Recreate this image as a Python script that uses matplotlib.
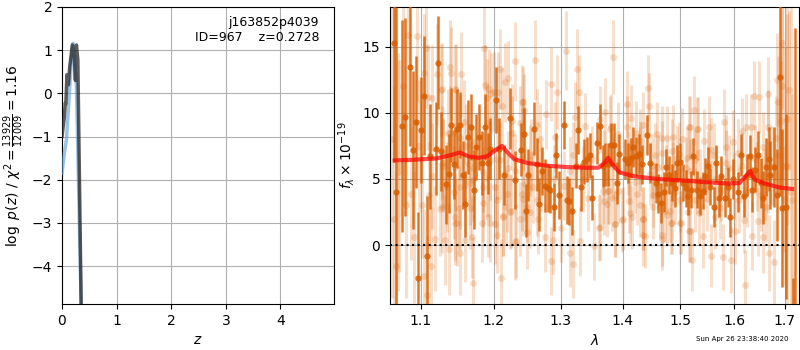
import numpy as np
import matplotlib
matplotlib.use("Agg")
import matplotlib.pyplot as plt
from matplotlib.ticker import FixedLocator, FixedFormatter, NullLocator

# ---------------- left panel: log p(z) ----------------
pz_z_fit = [0.0, 0.043, 0.06, 0.07, 0.09, 0.117, 0.14, 0.19, 0.227, 0.245, 0.264, 0.29, 0.35, 0.40]
pz_dark = [-1.0, -0.55, -0.22, -0.25, 0.43, 0.20, 0.60, 1.12, 0.82, 0.30, 1.12, 0.77, -4.85, -9.0]
pz_z_blue = [0.0, 0.043, 0.08, 0.117, 0.153, 0.19, 0.20, 0.227, 0.264, 0.30, 0.35, 0.40]
pz_blue = [-1.85, -1.39, -1.08, -0.38, 0.39, 1.08, 1.16, 0.85, 0.16, -1.9, -4.85, -9.0]

# ---------------- right panel: spectrum ----------------
dark_wave = [1.0651, 1.0680, 1.0754, 1.0792, 1.0857, 1.0896, 1.0935, 1.0962, 1.1001, 1.1041,
             1.1080, 1.1120, 1.1201, 1.1228, 1.1268, 1.1336, 1.1377, 1.1404, 1.1445, 1.1486,
             1.1528, 1.1570, 1.1598, 1.1639, 1.1681, 1.1723, 1.1751, 1.1794, 1.1836, 1.1879,
             1.1921, 1.1950, 1.2036, 1.2079, 1.2152, 1.2240, 1.2313, 1.2402, 1.2447, 1.2477,
             1.2507, 1.2597, 1.2643, 1.2673, 1.2718, 1.2764, 1.2810, 1.2840, 1.2902, 1.2933,
             1.2979, 1.3058, 1.3105, 1.3136, 1.3184, 1.3247, 1.3279, 1.3326, 1.3374, 1.3422,
             1.3470, 1.3503, 1.3584, 1.3633, 1.3682, 1.3715, 1.3764, 1.3814, 1.3864, 1.3913,
             1.3946, 1.4047, 1.4098, 1.4149, 1.4183, 1.4234, 1.4285, 1.4337, 1.4422, 1.4474,
             1.4579, 1.4614, 1.4667, 1.4719, 1.4754, 1.4808, 1.4861, 1.4914, 1.4950, 1.5004,
             1.5058, 1.5112, 1.5148, 1.5203, 1.5239, 1.5313, 1.5350, 1.5405, 1.5460, 1.5498,
             1.5553, 1.5609, 1.5665, 1.5703, 1.5759, 1.5816, 1.5873, 1.5911, 1.5968, 1.6064,
             1.6122, 1.6180, 1.6238, 1.6297, 1.6336, 1.6394, 1.6453, 1.6512, 1.6552, 1.6611,
             1.6671, 1.6710, 1.6771, 1.6831, 1.6892, 1.6932, 1.7014, 1.7162, 1.7204]
dark_flux = [15.3, 4.0, 9.0, 9.7, 13.5, 7.2, 9.3, -2.5, 8.7, 11.3,
             -0.8, 6.7, 7.3, 13.8, 7.1, 4.6, 5.4, 9.1, 6.1, 8.8,
             9.1, 5.3, 3.1, 8.2, 8.9, 4.2, 7.4, 8.2, 6.2, 8.9,
             6.2, 7.3, 11.0, 7.3, 5.3, 9.6, 4.9, 7.2, 8.4, 2.6,
             5.3, 8.8, 6.1, 3.1, 5.6, 4.5, 4.3, 4.2, 2.9, 6.8,
             3.8, 9.1, 3.4, 3.3, 2.6, 6.0, 8.7, 4.4, 6.3, 6.5,
             6.8, 3.6, 7.7, 9.0, 6.0, 6.1, 6.1, 7.6, 7.6, 4.7,
             6.9, 6.5, 6.2, 6.6, 7.4, 6.7, 6.9, 6.1, 8.3, 6.2,
             4.7, 3.9, 3.2, 4.0, 5.9, 5.3, 4.7, 4.3, 6.2, 6.3,
             4.7, 4.3, 3.7, 4.2, 6.7, 4.2, 3.7, 4.1, 5.2, 6.0,
             4.4, 2.9, 6.2, 3.6, 5.2, 3.6, 4.4, 2.1, 5.0, 4.0,
             6.8, 3.7, 5.3, 6.7, 4.2, 5.7, 6.8, 4.7, 3.6, 5.9,
             6.5, 5.3, 5.9, 3.8, 12.7, 2.8, 2.9, -9.0, -6.0]
dark_err = [9.0, 14.0, 8.0, 7.5, 6.0, 6.0, 5.0, 5.0, 4.0, 4.5,
            4.5, 4.0, 3.5, 3.5, 3.0, 3.0, 3.0, 2.8, 2.6, 3.0,
            2.5, 2.6, 2.5, 2.8, 2.5, 3.0, 2.5, 2.5, 2.4, 2.5,
            2.3, 2.3, 2.5, 2.3, 2.3, 2.3, 2.2, 2.0, 2.0, 2.0,
            2.0, 2.0, 2.0, 2.0, 1.8, 2.0, 1.8, 1.8, 1.8, 1.7,
            1.8, 1.8, 1.8, 1.8, 1.8, 1.7, 1.8, 1.8, 1.7, 1.7,
            1.7, 1.7, 1.6, 1.7, 1.6, 1.6, 1.6, 1.6, 1.6, 1.6,
            1.5, 1.5, 1.5, 1.5, 1.5, 1.5, 1.5, 1.5, 1.5, 1.5,
            1.5, 1.5, 1.5, 1.5, 1.4, 1.4, 1.4, 1.4, 1.4, 1.4,
            1.4, 1.4, 1.4, 1.4, 1.4, 1.4, 1.4, 1.4, 1.4, 1.4,
            1.4, 1.5, 1.4, 1.5, 1.5, 1.5, 1.5, 1.5, 1.5, 1.5,
            1.6, 1.6, 1.6, 1.6, 1.7, 1.7, 1.8, 1.9, 2.0, 2.2,
            2.4, 2.6, 3.0, 3.5, 9.0, 6.0, 7.0, 6.5, 22.4]

light_wave = [1.0948, 1.1093, 1.1147, 1.1390, 1.1405, 1.1268, 1.1472, 1.2313,
              1.2094, 1.1936, 1.2007, 1.1907, 1.2167, 1.1865, 1.1041, 1.0831,
              1.1067, 1.1208, 1.1384, 1.1577, 1.2409, 1.0677, 1.1034, 1.1134,
              1.1080, 1.1709, 1.2101, 1.1188, 1.0909, 1.1377, 1.1598, 1.1459,
              1.1943, 1.2014, 1.2138, 1.2255, 1.2320, 1.2182, 1.1514, 1.1255,
              1.1014, 1.0870, 1.1100, 1.1667, 1.1843, 1.2022, 1.0715, 1.0975,
              1.1275, 1.1612, 1.2262, 1.2432, 1.0700, 1.0800, 1.1150, 1.1300,
              1.1450, 1.1700, 1.1850, 1.2050, 1.2200, 1.2612, 1.2847, 1.2940,
              1.3089, 1.3263, 1.3295, 1.3847, 1.4439, 1.4448, 1.2445, 1.2771,
              1.3231, 1.3804, 1.4081, 1.4354, 1.2756, 1.2856, 1.2887, 1.3143,
              1.3191, 1.3302, 1.3535, 1.3617, 1.3880, 1.3997, 1.4132, 1.4388,
              1.4345, 1.2492, 1.2650, 1.3002, 1.3438, 1.3689, 1.3781, 1.3150,
              1.2688, 1.2917, 1.3390, 1.3624, 1.2425, 1.2537, 1.2462, 1.4217,
              1.4526, 1.2550, 1.2700, 1.2900, 1.3050, 1.3200, 1.3350, 1.3500,
              1.3700, 1.3900, 1.4100, 1.4300, 1.4500, 1.4750, 1.4900, 1.5100,
              1.5246, 1.5331, 1.5516, 1.5166, 1.5797, 1.6375, 1.6473, 1.6651,
              1.6838, 1.6851, 1.7075, 1.6952, 1.6912, 1.6219, 1.6330, 1.6658,
              1.6141, 1.4684, 1.4868, 1.4975, 1.5424, 1.5835, 1.5975, 1.6559,
              1.6818, 1.4674, 1.5173, 1.5221, 1.5560, 1.5790, 1.5930, 1.6200,
              1.6350, 1.6565, 1.6690, 1.6790, 1.5010, 1.5412, 1.5646, 1.6025,
              1.6187, 1.6460, 1.7141, 1.4843, 1.5338, 1.4736, 1.5740, 1.6083,
              1.6618, 1.5300, 1.5500, 1.5650, 1.5900, 1.6150, 1.6450, 1.6600,
              1.6750, 1.7000, 1.6950, 1.7050, 1.7120, 1.0620, 1.0650, 1.0760,
              1.3715, 1.4149, 1.4081, 1.4234, 1.3797, 1.3930, 1.4596, 1.4772,
              1.5185, 1.5313, 1.4302, 1.4684, 1.4861, 1.5040, 1.5130, 1.5276,
              1.4561, 1.3682, 1.3764, 1.3830, 1.3930, 1.4115, 1.4251, 1.4526,
              1.4302, 1.4649, 1.4825, 1.5004, 1.5148, 1.5276, 1.3748, 1.3880,
              1.4013, 1.4166, 1.4354, 1.4772, 1.4861, 1.5004, 1.5166, 1.4354,
              1.4684, 1.3633, 1.4474, 1.4614, 1.4879, 1.5185, 1.5368, 1.4302,
              1.4098, 1.3847, 1.4950, 1.1542, 1.2211, 1.1459, 1.1879, 1.1964,
              1.2065, 1.2432, 1.1282, 1.1364, 1.1528, 1.1907, 1.2123, 1.2269,
              1.2387, 1.2643, 1.1296, 1.1459, 1.1653, 1.1950, 1.2094, 1.2313,
              1.2537, 1.1350, 1.1528, 1.1709, 1.1907, 1.2196, 1.2417, 1.2582,
              1.1282, 1.1459, 1.1667, 1.1850, 1.2051, 1.2240, 1.2492, 1.2643,
              1.1486, 1.1836, 1.1921, 1.2138, 1.2387, 1.1323, 1.1695, 1.2051,
              1.2313, 1.1528, 1.5480, 1.5620, 1.5750, 1.5850, 1.6000, 1.6080,
              1.6250, 1.6400, 1.6520, 1.6670, 1.6860, 1.6980, 1.7050, 1.5560]
light_flux = [15.8, 11.2, 11.1, 13.5, 13.0, 11.7, 11.7, 13.9,
              13.3, 11.8, 11.6, 11.1, 12.3, 14.9, 13.0, 15.9,
              14.9, 12.9, 8.5, 9.3, 10.8, -1.6, -2.3, -1.6,
              -3.8, -2.9, -2.5, 0.5, 0.6, -0.3, 0.4, 1.7,
              1.7, 1.6, 2.2, 2.6, 0.3, 2.9, 2.8, 2.7,
              3.0, 3.9, 3.8, 4.7, 4.4, 4.4, 6.0, 7.5,
              7.0, 7.5, 8.5, 8.4, 5.5, 3.0, 5.2, 6.0,
              4.0, 5.8, 5.5, 6.5, 5.8, 14.0, 12.2, 11.6,
              14.7, 13.3, 11.6, 14.2, 11.9, 10.5, 10.2, 9.9,
              9.7, 8.9, 10.7, 9.1, 0.6, -1.2, 0.4, -0.6,
              -1.4, 0.3, -0.1, 1.3, 1.6, 1.9, 2.4, 0.7,
              2.0, 1.0, 2.0, 1.3, 3.6, 3.3, 4.1, 5.6,
              8.0, 8.2, 9.0, 9.5, 3.5, 2.5, 4.6, 4.8,
              3.8, 6.8, 5.2, 5.0, 4.5, 6.8, 5.0, 6.5,
              6.2, 5.8, 5.5, 6.5, 6.0, 5.2, 4.0, 5.8,
              10.2, 8.8, 8.9, 8.9, 9.3, 11.3, 11.2, 11.4,
              12.5, 10.8, 11.7, 15.3, 9.4, 8.9, 8.9, 8.9,
              8.6, 8.1, 8.2, 6.9, 7.9, 7.4, 7.8, 7.4,
              8.1, 0.5, 1.1, -1.1, -0.8, -0.9, -1.1, -3.0,
              0.7, 0.6, -0.6, -1.3, 1.7, 0.7, 2.1, 1.1,
              1.9, 1.8, 3.4, 1.7, 2.4, 2.6, 2.9, 3.4,
              2.9, 4.8, 6.2, 5.0, 5.8, 6.0, 5.2, 4.6,
              6.0, 6.0, 12.0, 6.0, 4.0, 8.0, 2.0, 12.0,
              10.1, 9.6, 8.9, 8.5, 8.8, 8.4, 8.4, 8.1,
              8.9, 8.8, 7.9, 7.0, 7.1, 8.0, 6.6, 6.4,
              6.8, 4.1, 4.1, 3.6, 4.1, 3.3, 3.9, 2.9,
              3.0, 2.9, 2.6, 3.4, 2.5, 3.4, 3.1, 1.6,
              2.0, 2.1, 2.0, 2.3, 1.7, 1.7, 1.1, 0.8,
              0.8, 1.4, 5.4, 5.9, 5.4, 5.6, 4.9, 7.0,
              6.2, 6.0, 6.6, 12.9, 12.6, 11.8, 12.1, 11.5,
              11.6, 10.8, 11.8, 8.5, 8.1, 9.2, 10.5, 9.4,
              9.2, 9.1, 6.2, 5.9, 6.1, 6.4, 6.4, 5.6,
              6.4, 4.4, 4.4, 4.9, 5.1, 3.9, 3.9, 4.4,
              2.9, 2.1, 2.8, 3.2, 3.4, 2.5, 2.9, 3.4,
              1.7, 1.7, 2.1, 2.1, 2.0, 0.4, 0.6, 0.8,
              0.2, -0.6, 3.5, 6.8, 4.2, 6.2, 4.5, 7.0,
              4.0, 6.5, 3.8, 5.2, 6.8, 3.5, 9.5, 7.2]
light_err = [5.0, 4.0, 4.0, 3.5, 3.5, 3.5, 3.5, 3.0,
             3.0, 3.0, 3.0, 3.0, 3.0, 3.2, 4.5, 6.0,
             4.5, 3.8, 3.5, 3.2, 2.8, 7.0, 5.0, 4.5,
             4.5, 3.5, 3.0, 4.0, 5.0, 3.5, 3.2, 3.2,
             3.0, 3.0, 3.0, 2.8, 2.8, 2.8, 3.2, 3.5,
             4.0, 5.0, 4.0, 3.2, 3.0, 3.0, 8.0, 5.0,
             3.5, 3.2, 2.8, 2.7, 9.0, 7.0, 4.0, 3.5,
             3.5, 3.2, 3.0, 3.0, 2.8, 3.0, 2.8, 2.8,
             3.0, 3.0, 2.8, 2.8, 2.5, 2.5, 2.7, 2.6,
             2.6, 2.5, 2.5, 2.5, 2.6, 2.6, 2.6, 2.6,
             2.6, 2.6, 2.5, 2.5, 2.5, 2.4, 2.4, 2.4,
             2.4, 2.8, 2.7, 2.6, 2.5, 2.5, 2.5, 2.6,
             2.7, 2.6, 2.5, 2.5, 2.8, 2.7, 2.8, 2.4,
             2.4, 2.7, 2.6, 2.6, 2.6, 2.5, 2.5, 2.5,
             2.5, 2.4, 2.4, 2.4, 2.4, 2.4, 2.4, 2.4,
             2.6, 2.4, 2.4, 2.4, 2.5, 2.6, 2.7, 2.8,
             3.5, 3.5, 6.0, 5.0, 4.5, 2.5, 2.5, 2.8,
             2.5, 2.4, 2.4, 2.4, 2.4, 2.4, 2.4, 2.7,
             3.2, 2.4, 2.4, 2.4, 2.4, 2.5, 2.5, 2.6,
             2.6, 2.7, 2.9, 3.2, 2.4, 2.4, 2.4, 2.5,
             2.5, 2.6, 8.0, 2.4, 2.4, 2.4, 2.4, 2.5,
             2.7, 2.4, 2.4, 2.4, 2.5, 2.5, 2.6, 2.7,
             3.0, 9.0, 7.0, 13.0, 14.0, 12.0, 10.0, 9.0,
             2.5, 2.5, 2.4, 2.4, 2.5, 2.4, 2.4, 2.4,
             2.4, 2.4, 2.4, 2.4, 2.4, 2.4, 2.3, 2.3,
             2.4, 2.5, 2.5, 2.5, 2.4, 2.4, 2.4, 2.4,
             2.4, 2.4, 2.4, 2.4, 2.4, 2.4, 2.5, 2.5,
             2.4, 2.4, 2.4, 2.4, 2.4, 2.4, 2.4, 2.4,
             2.4, 2.5, 2.4, 2.4, 2.4, 2.4, 2.4, 2.4,
             2.4, 2.5, 2.4, 3.2, 2.8, 3.4, 3.0, 3.0,
             3.0, 2.7, 3.5, 3.3, 3.2, 3.0, 2.9, 2.8,
             2.8, 2.7, 3.4, 3.3, 3.1, 3.0, 2.9, 2.8,
             2.7, 3.4, 3.2, 3.1, 3.0, 2.9, 2.8, 2.7,
             3.5, 3.3, 3.1, 3.0, 2.9, 2.8, 2.7, 2.7,
             3.3, 3.0, 3.0, 2.9, 2.8, 3.4, 3.1, 2.9,
             2.8, 3.2, 2.4, 2.4, 2.4, 2.5, 2.5, 2.5,
             2.6, 2.6, 2.7, 2.8, 3.2, 4.0, 8.0, 2.4]

model_wave = [1.066, 1.09, 1.12, 1.14, 1.152, 1.165, 1.178, 1.19, 1.203, 1.212,
              1.22, 1.23, 1.25, 1.28, 1.31, 1.34, 1.36, 1.37, 1.376, 1.385,
              1.395, 1.42, 1.46, 1.50, 1.55, 1.59, 1.61, 1.62, 1.631, 1.64,
              1.66, 1.69, 1.715]
model_flux = [6.4, 6.45, 6.55, 6.8, 7.0, 6.7, 6.6, 6.7, 7.2, 7.5,
              7.0, 6.5, 6.2, 6.0, 5.9, 5.85, 5.85, 6.2, 6.6, 6.0,
              5.5, 5.2, 5.0, 4.9, 4.75, 4.65, 4.7, 5.1, 5.6, 4.95,
              4.65, 4.35, 4.25]

xticks = [1.1, 1.2, 1.3, 1.4, 1.5, 1.6, 1.7]
xticklabels = ["1.1", "1.2", "1.3", "1.4", "1.5", "1.6", "1.7"]

fig = plt.figure(figsize=(8, 3.5), dpi=100)
ax1 = fig.add_axes([62/800, 46/350, 272/800, 297/350])
ax2 = fig.add_axes([390/800, 46/350, 409/800, 297/350])

# left
ax1.plot(pz_z_blue, pz_blue, color='#5b9bd5', alpha=0.6, lw=2.5, zorder=3)
ax1.plot(pz_z_fit, pz_dark, color='0.15', alpha=0.75, lw=2.5, zorder=4)
ax1.set_xlim(0, 4.98)
ax1.set_ylim(-4.88, 2)
ax1.set_xticks([0, 1, 2, 3, 4])
ax1.set_yticks([-4, -3, -2, -1, 0, 1, 2])
ax1.grid(True)
ax1.set_xlabel(r'$z$')
ax1.set_ylabel(r'$\log\ p(z)$ / $\chi^2=\frac{13929}{12009}=1.16$')
ax1.text(0.945, 0.97, 'j163852p4039\nID=967    z=0.2728', transform=ax1.transAxes,
         ha='right', va='top', fontsize=9, linespacing=1.2)

# right
col = '#d95f02'
ax2.errorbar(light_wave, light_flux, yerr=light_err, fmt='o', color=col, alpha=0.2,
             ms=5, elinewidth=2.2, capsize=0, mec='none', zorder=2)
ax2.errorbar(dark_wave, dark_flux, yerr=dark_err, fmt='o', color=col, alpha=0.85,
             ms=4.5, elinewidth=1.8, capsize=0, mec='none', zorder=3)
ax2.plot(model_wave, model_flux, color='red', alpha=0.7, lw=3, zorder=5)
ax2.axhline(0, color='k', ls=':', lw=1.5, zorder=4)
ax2.set_xscale('log')
ax2.set_xlim(1.06, 1.729)
ax2.set_ylim(-4.45, 18)
ax2.xaxis.set_major_locator(FixedLocator(xticks))
ax2.xaxis.set_major_formatter(FixedFormatter(xticklabels))
ax2.xaxis.set_minor_locator(NullLocator())
ax2.set_yticks([0, 5, 10, 15])
ax2.grid(True)
ax2.set_xlabel(r'$\lambda$')
ax2.set_ylabel(r'$f_\lambda\times10^{-19}$')

fig.text(0.985, 0.031, 'Sun Apr 26 23:38:40 2020', ha='right', va='center', fontsize=5)

fig.savefig('out.png', dpi=100)
